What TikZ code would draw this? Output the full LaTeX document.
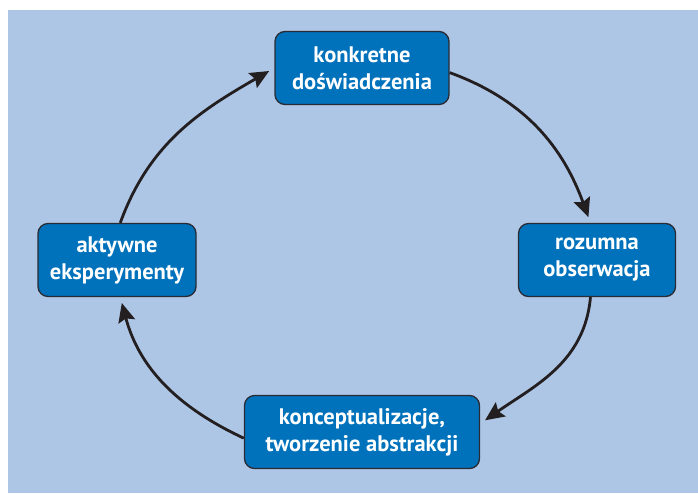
\documentclass[tikz,border=0pt]{standalone}
\usepackage{fontspec}
\setmainfont{PT Sans}
\usetikzlibrary{arrows.meta}
\begin{document}
\begin{tikzpicture}[x=1pt,y=-1pt,
  stage/.style={draw=boxline,line width=1.3pt,fill=boxblue,rounded corners=10pt,
    minimum height=73pt,align=center,text=white,
    font=\fontsize{22.5}{27}\selectfont\bfseries},
  cycle/.style={draw=arcline,line width=2.8pt,shorten >=6pt,
    -{Stealth[length=19pt,width=17pt,inset=3pt]}}]
\definecolor{panel}{HTML}{AEC6E6}
\definecolor{boxblue}{HTML}{0072BC}
\definecolor{boxline}{HTML}{2A2A33}
\definecolor{arcline}{HTML}{231F20}
\fill[white] (0,0) rectangle (698,493);
\fill[panel] (8,10) rectangle (698,493);
\node[stage,minimum width=174pt] (konkretne) at (362,68) {konkretne\\doświadczenia};
\node[stage,minimum width=157pt] (obserwacja) at (597,260) {rozumna\\obserwacja};
\node[stage,minimum width=235pt] (abstrakcja) at (362,432) {konceptualizacje,\\tworzenie abstrakcji};
\node[stage,minimum width=158pt] (eksperyment) at (117,260) {aktywne\\eksperymenty};
  \foreach \from/\fa/\to/\ta/\outa/\ina in {konkretne/-3/obserwacja/100/-20/110,
    obserwacja/-100/abstrakcja/4/-95/35,abstrakcja/183/eksperyment/-85/155/-75,
    eksperyment/85/konkretne/180/70/210}
  {  \draw[cycle] (\from.\fa) to[out=\outa,in=\ina] (\to.\ta);}
\end{tikzpicture}
\end{document}
